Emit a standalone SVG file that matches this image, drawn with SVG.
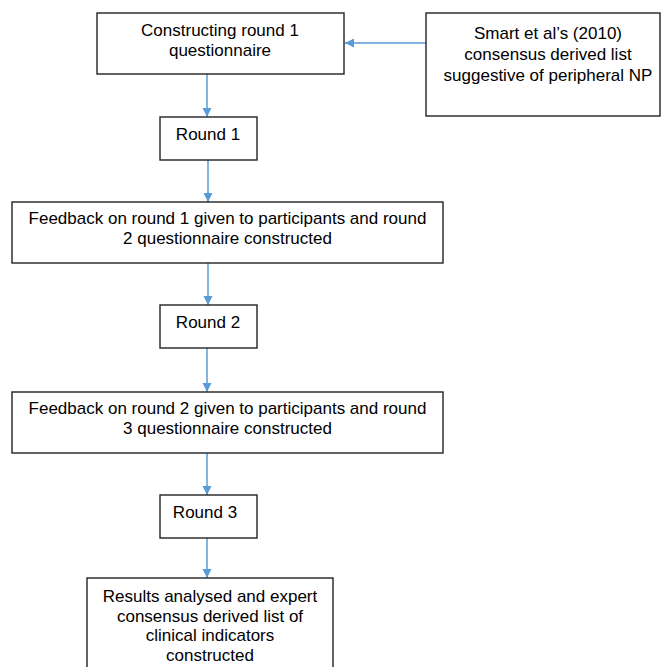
<svg xmlns="http://www.w3.org/2000/svg" width="662" height="667" viewBox="0 0 662 667">
<defs>
<marker id="ah" markerWidth="10" markerHeight="10" refX="9" refY="5" orient="auto" markerUnits="userSpaceOnUse">
<path d="M0,0.5 L9,5 L0,9.5 Z" fill="#5B9BD5"/>
</marker>
<style>
.box{fill:#fff;stroke:#222;stroke-width:1.4}
.t{font-family:"Liberation Sans",Arial,sans-serif;font-size:17px;fill:#000;text-anchor:middle}
.c{stroke:#5B9BD5;stroke-width:1.5;fill:none;marker-end:url(#ah)}
</style>
</defs>
<rect width="662" height="667" fill="#fff"/>
<g id="connectors">
<line class="c" x1="426" y1="43" x2="345" y2="43"/>
<line class="c" x1="207" y1="74" x2="207" y2="117"/>
<line class="c" x1="208" y1="160" x2="208" y2="202"/>
<line class="c" x1="208" y1="263" x2="208" y2="305"/>
<line class="c" x1="207" y1="348" x2="207" y2="392"/>
<line class="c" x1="207" y1="453" x2="207" y2="495"/>
<line class="c" x1="207" y1="538" x2="207" y2="578"/>
</g>
<g id="n-construct">
<rect class="box" x="97" y="13" width="247" height="61"/>
<text class="t" x="220" y="36">Constructing round 1</text>
<text class="t" x="220" y="56">questionnaire</text>
</g>
<g id="n-smart">
<rect class="box" x="426" y="13" width="234" height="103"/>
<text class="t" x="548" y="39">Smart et al’s (2010)</text>
<text class="t" x="548" y="60">consensus derived list</text>
<text class="t" x="548" y="81">suggestive of peripheral NP</text>
</g>
<g id="n-round1">
<rect class="box" x="160" y="117" width="97" height="43"/>
<text class="t" x="208" y="140">Round 1</text>
</g>
<g id="n-feedback1">
<rect class="box" x="12" y="202" width="431" height="61"/>
<text class="t" x="227.5" y="224">Feedback on round 1 given to participants and round</text>
<text class="t" x="227.5" y="244">2 questionnaire constructed</text>
</g>
<g id="n-round2">
<rect class="box" x="160" y="305" width="97" height="43"/>
<text class="t" x="208" y="328">Round 2</text>
</g>
<g id="n-feedback2">
<rect class="box" x="12" y="392" width="431" height="61"/>
<text class="t" x="227.5" y="414">Feedback on round 2 given to participants and round</text>
<text class="t" x="227.5" y="434">3 questionnaire constructed</text>
</g>
<g id="n-round3">
<rect class="box" x="160" y="495" width="97" height="43"/>
<text class="t" x="205" y="518">Round 3</text>
</g>
<g id="n-results">
<rect class="box" x="87" y="578" width="246" height="100"/>
<text class="t" x="210" y="602">Results analysed and expert</text>
<text class="t" x="210" y="622">consensus derived list of</text>
<text class="t" x="210" y="641">clinical indicators</text>
<text class="t" x="210" y="661">constructed</text>
</g>
</svg>
